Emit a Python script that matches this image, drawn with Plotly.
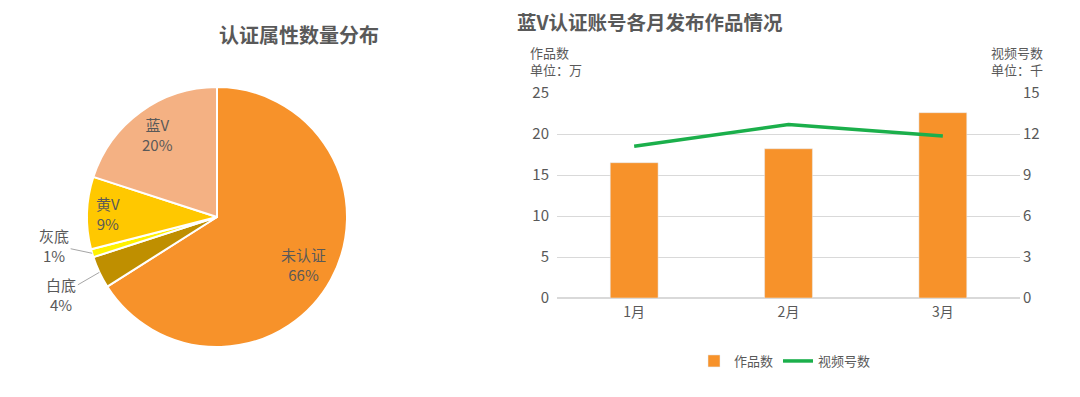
import math
import plotly.graph_objects as go

# ---- data ----
pie_labels = ["未认证", "白底", "灰底", "黄V", "蓝V"]
pie_values = [66, 4, 1, 9, 20]
pie_colors = ["#F7922A", "#BF8F00", "#FFF200", "#FFC800", "#F4B183"]

months = ["1月", "2月", "3月"]
works = [16.5, 18.2, 22.6]        # 作品数 (万)
videos = [11.1, 12.7, 11.85]      # 视频号数 (千)

FONT = "Noto Sans CJK SC"
GRAY = "#595959"
W, H = 1080, 397
OFF = 8  # page body margin


def px(x):
    return (x - OFF) / W


def py(y):
    return 1 - (y - OFF) / H


fig = go.Figure()

# ---- pie ----
pcx, pcy, pr = 217, 217, 130   # pixel geometry (reference)
fig.add_trace(go.Pie(
    labels=pie_labels, values=pie_values, sort=False, direction="clockwise",
    rotation=0, marker=dict(colors=pie_colors, line=dict(color="white", width=2)),
    textinfo="none",
    domain=dict(x=[px(pcx - pr), px(pcx + pr)], y=[py(pcy + pr), py(pcy - pr)]),
    showlegend=False, hoverinfo="label+percent",
))

# slice labels: inside ones at a radius fraction, small ones with leader lines
inside_r = {"未认证": 0.76, "黄V": 0.84, "蓝V": 0.78}
offsets = {"灰底": (-38, -8), "白底": (-38, 22)}
total = sum(pie_values)
cum = 0
annots = []
for lab, v in zip(pie_labels, pie_values):
    mid = (cum + v / 2) / total * 2 * math.pi
    cum += v
    txt = f"{lab}<br>{round(v / total * 100)}%"
    if lab in offsets:
        ex = pcx + pr * math.sin(mid)
        ey = pcy - pr * math.cos(mid)
        ax, ay = offsets[lab]
        annots.append(dict(
            x=px(ex), y=py(ey), xref="paper", yref="paper", text=txt,
            showarrow=True, arrowhead=0, arrowwidth=1, arrowcolor="#A6A6A6",
            ax=ax, ay=ay, font=dict(family=FONT, size=15, color=GRAY),
            align="center",
        ))
    else:
        f = inside_r[lab]
        lx = pcx + pr * f * math.sin(mid)
        ly = pcy - pr * f * math.cos(mid)
        annots.append(dict(
            x=px(lx), y=py(ly), xref="paper", yref="paper", text=txt,
            showarrow=False, align="center", xanchor="center", yanchor="middle",
            font=dict(family=FONT, size=15, color=GRAY),
        ))

# ---- bar + line ----
fig.add_trace(go.Bar(
    x=months, y=works, name="作品数", marker_color="#F7922A",
    xaxis="x", yaxis="y",
))
fig.add_trace(go.Scatter(
    x=months, y=videos, name="视频号数", mode="lines",
    line=dict(color="#1BAF4B", width=3.5), xaxis="x", yaxis="y2",
))

annots += [
    dict(text="<b>认证属性数量分布</b>", x=px(217), y=py(34),
         xref="paper", yref="paper", showarrow=False, yanchor="middle",
         font=dict(family=FONT, size=20, color=GRAY)),
    dict(text="<b>蓝V认证账号各月发布作品情况</b>", x=px(785), y=py(22),
         xref="paper", yref="paper", showarrow=False, yanchor="middle",
         font=dict(family=FONT, size=19.5, color=GRAY)),
    dict(text="作品数<br>单位：万", x=px(528), y=py(41), xref="paper",
         yref="paper", xanchor="left", yanchor="top", align="left",
         showarrow=False, font=dict(family=FONT, size=13, color=GRAY)),
    dict(text="视频号数<br>单位：千", x=px(1045), y=py(41), xref="paper",
         yref="paper", xanchor="right", yanchor="top", align="left",
         showarrow=False, font=dict(family=FONT, size=13, color=GRAY)),
]

fig.update_layout(
    width=W, height=H, margin=dict(l=0, r=0, t=0, b=0, autoexpand=False),
    paper_bgcolor="white", plot_bgcolor="white",
    font=dict(family=FONT, color=GRAY, size=14),
    bargap=0.69,
    xaxis=dict(domain=[px(557), px(1020)], showgrid=False, showline=False,
               ticks="", tickfont=dict(size=14, color=GRAY), automargin=False,
               ticklabelstandoff=4),
    yaxis=dict(domain=[py(298), py(93)], range=[0, 25], dtick=5,
               gridcolor="#D9D9D9", gridwidth=1, zeroline=True,
               zerolinecolor="#D9D9D9", showline=False, ticks="",
               tickfont=dict(size=15, color=GRAY), ticklabelstandoff=7,
               automargin=False),
    yaxis2=dict(overlaying="y", side="right", range=[0, 15], dtick=3,
                showgrid=False, zeroline=False, showline=False, ticks="",
                tickfont=dict(size=15, color=GRAY), ticklabelstandoff=2,
                automargin=False),
    legend=dict(orientation="h", x=px(785), xanchor="center", y=py(361),
                yanchor="middle", font=dict(size=13, color=GRAY),
                itemwidth=30, traceorder="normal"),
    annotations=annots,
)

fig.write_html("out.html")
